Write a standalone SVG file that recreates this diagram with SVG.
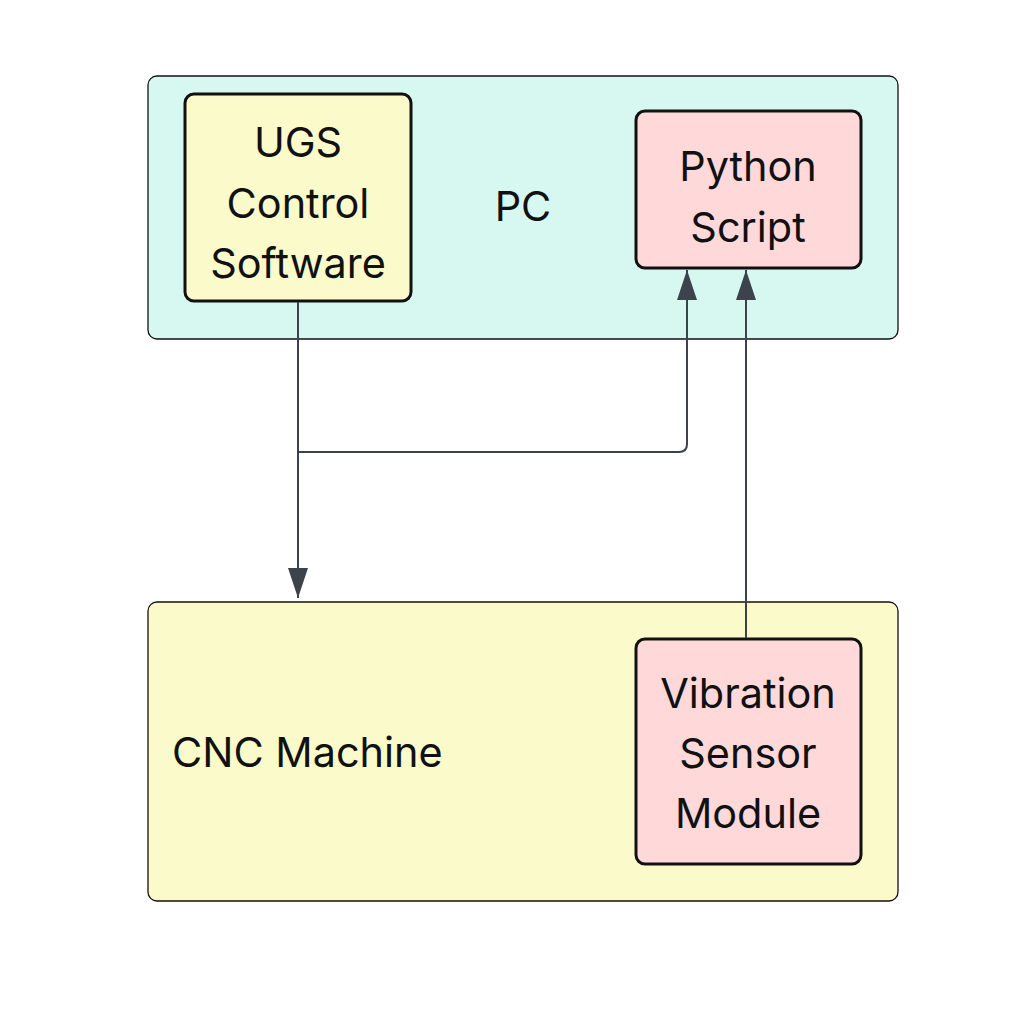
<svg xmlns="http://www.w3.org/2000/svg" width="1013" height="1013" viewBox="0 0 1013 1013">
<style>
.grp{stroke:#111;stroke-width:1.3}
.node{stroke:#111;stroke-width:3}
.t{font-family:Inter,"Liberation Sans",sans-serif;font-size:41.4px;fill:#111;text-anchor:middle}
.edge{fill:none;stroke:#3d434d;stroke-width:2}
</style>
<defs>
<marker id="arr" viewBox="0 0 30 20" refX="30" refY="10" markerWidth="30" markerHeight="20" markerUnits="userSpaceOnUse" orient="auto">
<path d="M0,0 L30,10 L0,20 Z" fill="#3d434d"/>
</marker>
</defs>
<rect width="1013" height="1013" fill="#fff"/>
<g id="pc">
<rect class="grp" x="148" y="76" width="750" height="263" rx="9" fill="#d7f8f1"/>
<text class="t" x="523" y="221">PC</text>
</g>
<g id="cnc">
<rect class="grp" x="148" y="602" width="750" height="299" rx="9" fill="#fbfacb"/>
<text class="t" x="172" y="767" style="text-anchor:start">CNC Machine</text>
</g>
<g id="ugs">
<rect class="node" x="185" y="94" width="226" height="207" rx="9" fill="#fbfacb"/>
<text class="t" x="298" y="157">UGS</text>
<text class="t" x="298" y="218">Control</text>
<text class="t" x="298" y="278">Software</text>
</g>
<g id="python">
<rect class="node" x="636" y="111" width="225" height="157" rx="9" fill="#ffd9da"/>
<text class="t" x="748" y="181">Python</text>
<text class="t" x="748" y="242">Script</text>
</g>
<g id="sensor">
<rect class="node" x="636" y="639" width="225" height="225" rx="9" fill="#ffd9da"/>
<text class="t" x="748" y="708">Vibration</text>
<text class="t" x="748" y="768">Sensor</text>
<text class="t" x="748" y="828">Module</text>
</g>
<g id="connectors">
<path class="edge" d="M298,302 V598" marker-end="url(#arr)"/>
<path class="edge" d="M298,452 H679 Q687,452 687,444 V270" marker-end="url(#arr)"/>
<path class="edge" d="M746,638 V270" marker-end="url(#arr)"/>
</g>
</svg>
